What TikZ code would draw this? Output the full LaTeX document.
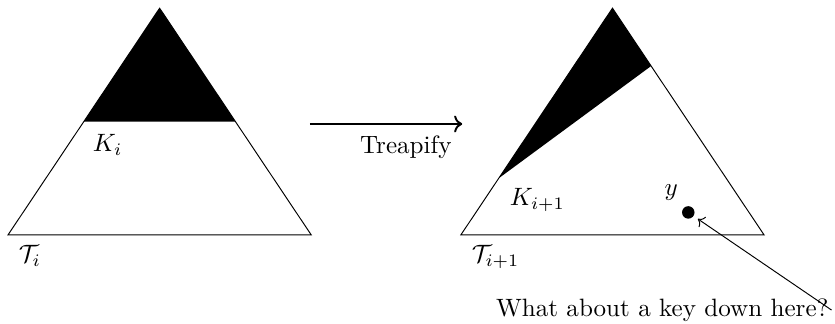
\documentclass[tikz,border=0pt]{standalone}
\usepackage{amsmath}
\usepackage{amssymb}
\usetikzlibrary{arrows.meta,calc,positioning}
\tikzset{
  treeline/.style={draw, black},
  keypart/.style={fill=black},
  lbl/.style={inner sep=1pt},
  keydot/.style={circle, fill=black, inner sep=0pt, minimum size=1.75mm},
  stepflow/.style={->, thick},
  remark/.style={->, shorten >=2pt}
}
\begin{document}
\begin{tikzpicture}[every node/.append style={scale=1.045}]
  \useasboundingbox (-0.117,-1.30) rectangle (12.108,3.44);
  % left tree
  \coordinate (la) at (2.22,3.32);
  \coordinate (ll) at (0,0);
  \coordinate (lr) at (4.44,0);
  \fill[keypart] (la) -- ($(ll)!0.5!(la)$) -- ($(lr)!0.5!(la)$) -- cycle;
  \draw[treeline] (la) -- (ll) -- (lr) -- cycle;
  \node[lbl] (ki) at (1.46,1.32) {$K_i$};
  \node[lbl] (ti) at (0.32,-0.31) {$\mathcal{T}_i$};
  % right tree
  \coordinate (ra) at (8.85,3.32);
  \coordinate (rl) at (6.63,0);
  \coordinate (rr) at (11.07,0);
  \fill[keypart] (ra) -- ($(rl)!0.25!(ra)$) -- ($(rr)!0.745!(ra)$) -- cycle;
  \draw[treeline] (ra) -- (rl) -- (rr) -- cycle;
  \node[lbl] (kn) at (7.75,0.51) {$K_{i+1}$};
  \node[lbl] (tn) at (7.14,-0.32) {$\mathcal{T}_{i+1}$};
  \node[keydot] (y) at (9.96,0.33) {};
  \node[lbl] (ylbl) at (9.71,0.62) {$y$};
  % treapify step
  \coordinate (s0) at (4.42,1.625);
  \coordinate (s1) at (6.65,1.625);
  \draw[stepflow] (s0) -- (s1) node[pos=0.63, below=1pt] {Treapify};
  % question
  \node[lbl] (ask) at (9.58,-1.10) {What about a key down here?};
  \draw[remark] (ask.east) -- (y);
\end{tikzpicture}
\end{document}
